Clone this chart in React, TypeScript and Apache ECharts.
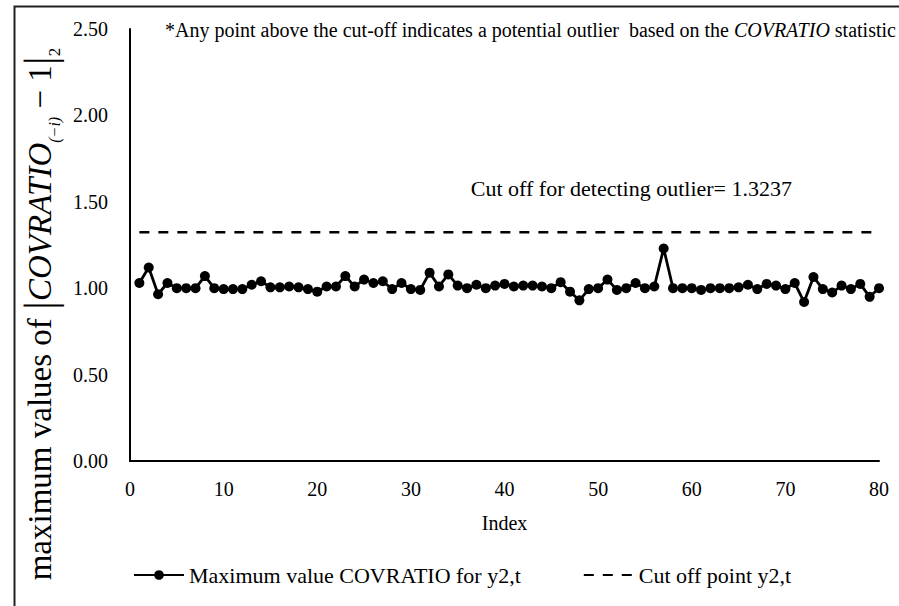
import React, { useEffect, useRef } from "react";
import * as echarts from "echarts";

// Maximum COVRATIO value per observation index (y2,t)
const indices: number[] = Array.from({ length: 80 }, (_, k) => k + 1);
const covratioMax: number[] = [
  1.03, 1.12, 0.965, 1.03, 1.0, 1.0, 1.0, 1.07, 1.0, 0.995,
  0.995, 0.995, 1.02, 1.04, 1.005, 1.005, 1.01, 1.005, 0.995, 0.98,
  1.01, 1.01, 1.07, 1.01, 1.05, 1.03, 1.04, 0.995, 1.03, 0.995,
  0.99, 1.09, 1.01, 1.08, 1.015, 1.0, 1.02, 1.0, 1.015, 1.025,
  1.01, 1.015, 1.015, 1.01, 1.0, 1.035, 0.98, 0.93, 0.995, 1.0,
  1.05, 0.99, 1.0, 1.03, 1.0, 1.01, 1.23, 1.0, 1.0, 1.0,
  0.99, 1.0, 1.0, 1.0, 1.005, 1.02, 0.995, 1.025, 1.015, 0.995,
  1.03, 0.92, 1.065, 0.995, 0.975, 1.015, 0.995, 1.025, 0.95, 1.0,
];
const cutOff = 1.3237;
const cutOffRange: number[] = [1, 80];

const seriesNames = ["Maximum value COVRATIO for y2,t", "Cut off point y2,t"];
const FONT = "Liberation Serif, Times New Roman, serif";

export default function App() {
  const ref = useRef<HTMLDivElement>(null);

  useEffect(() => {
    if (!ref.current) return;
    const chart = echarts.init(ref.current, undefined, { renderer: "svg" });

    const mainData = indices.map((x, k) => [x, covratioMax[k]]);
    const cutData = cutOffRange.map((x) => [x, cutOff]);

    chart.setOption({
      animation: false,
      backgroundColor: "#fff",
      textStyle: { fontFamily: FONT, color: "#000" },
      grid: { left: 130, right: 20, top: 29, bottom: 145 },
      xAxis: {
        type: "value",
        min: 0,
        max: 80,
        interval: 10,
        name: "Index",
        nameLocation: "middle",
        nameGap: 52,
        nameTextStyle: { fontFamily: FONT, fontSize: 20, color: "#000" },
        axisLine: { show: true, onZero: false, lineStyle: { color: "#000", width: 2 } },
        axisTick: { show: false },
        splitLine: { show: false },
        axisLabel: { fontFamily: FONT, fontSize: 20, color: "#000", margin: 18 },
      },
      yAxis: {
        type: "value",
        min: 0,
        max: 2.5,
        interval: 0.5,
        axisLine: { show: true, lineStyle: { color: "#000", width: 2 } },
        axisTick: { show: false },
        splitLine: { show: false },
        axisLabel: {
          fontFamily: FONT,
          fontSize: 20,
          color: "#000",
          margin: 22,
          formatter: (v: number) => v.toFixed(2),
        },
      },
      legend: {
        left: 128,
        top: 559,
        itemWidth: 50,
        itemHeight: 12,
        itemGap: 62,
        textStyle: { fontFamily: FONT, fontSize: 22, color: "#000" },
        data: [
          { name: seriesNames[0] },
          { name: seriesNames[1], itemStyle: { opacity: 0 } },
        ],
      },
      series: [
        {
          name: seriesNames[0],
          type: "line",
          data: mainData,
          symbol: "circle",
          symbolSize: 10,
          itemStyle: { color: "#000" },
          lineStyle: { color: "#000", width: 2.8 },
          z: 3,
        },
        {
          name: seriesNames[1],
          type: "line",
          data: cutData,
          symbol: "none",
          itemStyle: { color: "#000" },
          lineStyle: { color: "#000", width: 2.5, type: [10, 9] },
          z: 2,
        },
      ],
      graphic: [
        {
          type: "rect",
          left: 12,
          top: 4,
          shape: { width: 900, height: 620 },
          style: { fill: "none", stroke: "#222", lineWidth: 2 },
          silent: true,
        },
        {
          type: "text",
          x: 40,
          y: 314,
          rotation: Math.PI / 2,
          style: {
            text:
              "{t|maximum values of }{b|\u007C}{i|COVRATIO}{s|(\u2212i)}{t| \u2212 1}{b|\u007C}{s2|2}",
            align: "center",
            verticalAlign: "middle",
            fill: "#000",
            rich: {
              t: { fontFamily: FONT, fontSize: 33, fill: "#000", verticalAlign: "middle" },
              i: { fontFamily: FONT, fontSize: 33, fontStyle: "italic", fill: "#000", verticalAlign: "middle" },
              b: { fontFamily: FONT, fontSize: 45, fill: "#000", verticalAlign: "middle" },
              s: { fontFamily: FONT, fontSize: 16, fontStyle: "italic", fill: "#000", verticalAlign: "bottom", lineHeight: 16 },
              s2: { fontFamily: FONT, fontSize: 17, fill: "#000", verticalAlign: "bottom", lineHeight: 17 },
            },
          },
        },
        {
          type: "text",
          left: 165,
          top: 20,
          style: {
            text:
              "{n|*Any point above the cut-off indicates a potential outlier  based on the }{i|COVRATIO}{n| statistic}",
            fill: "#000",
            rich: {
              n: { fontFamily: FONT, fontSize: 20, fill: "#000" },
              i: { fontFamily: FONT, fontSize: 20, fontStyle: "italic", fill: "#000" },
            },
          },
        },
        {
          type: "text",
          x: 792,
          y: 188,
          style: {
            text: `Cut off for detecting outlier= ${cutOff}`,
            fontFamily: FONT,
            fontSize: 22,
            fill: "#000",
            align: "right",
            verticalAlign: "middle",
          },
        },
      ],
    });

    return () => chart.dispose();
  }, []);

  return (
    <div
      ref={ref}
      style={{ position: "fixed", left: 0, top: 0, width: 899, height: 606 }}
    />
  );
}
